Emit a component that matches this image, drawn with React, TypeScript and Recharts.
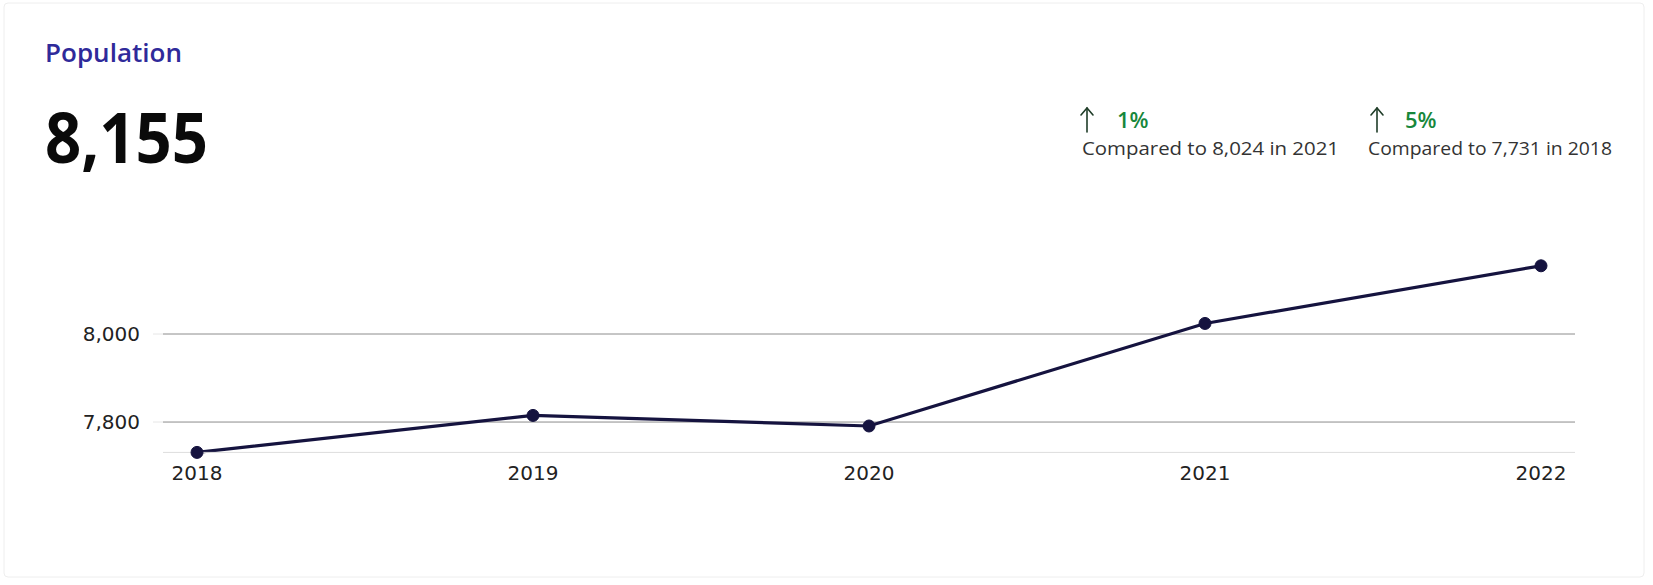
import React from 'react'
import { LineChart, Line, XAxis, YAxis, CartesianGrid } from 'recharts'

// 연도별 인구 데이터
const years = ['2018', '2019', '2020', '2021', '2022']
const population = [7731, 7815, 7791, 8024, 8155]
const yTicks = [7800, 8000]
const yDomain = [7731, 8155]

const chartData = years.map((year, i) => ({ year, population: population[i] }))

const W = 1653
const H = 585
const LINE = '#15133f'
const TICK_FONT = '"DejaVu Sans", Verdana, sans-serif'
const UI_FONT = '"Open Sans", "Noto Sans", sans-serif'

function UpArrow({ x }: { x: number }) {
  return (
    <g stroke="#1f3d28" strokeWidth={1.6} fill="none" strokeLinecap="round">
      <line x1={x} y1={132} x2={x} y2={108} />
      <polyline points={`${x - 6},${115} ${x},${108} ${x + 6},${115}`} />
    </g>
  )
}

export default function App() {
  return (
    <div style={{ position: 'absolute', left: 0, top: 0, width: W, height: H, background: '#fff' }}>
      {/* 헤더 텍스트 */}
      <svg width={W} height={H} style={{ position: 'absolute', left: 0, top: 0, pointerEvents: 'none' }}>
        <rect x={4} y={3} width={1640} height={574} rx={4} fill="none" stroke="#eeeeee" />
        <text
          x={45}
          y={62}
          fontFamily={UI_FONT}
          fontSize={25}
          fontWeight={600}
          fill="#2f2a9a"
          textLength={137}
          lengthAdjust="spacingAndGlyphs"
        >
          Population
        </text>
        <text
          x={45}
          y={163}
          fontFamily={UI_FONT}
          fontSize={70}
          fontWeight={700}
          fill="#0a0a0a"
          textLength={163}
          lengthAdjust="spacingAndGlyphs"
        >
          8,155
        </text>

        <UpArrow x={1087} />
        <text x={1117} y={128} fontFamily={UI_FONT} fontSize={22} fontWeight={600} fill="#17873b">
          1%
        </text>
        <text
          x={1082}
          y={155}
          fontFamily={UI_FONT}
          fontSize={19}
          fill="#333"
          textLength={257}
          lengthAdjust="spacingAndGlyphs"
        >
          Compared to 8,024 in 2021
        </text>

        <UpArrow x={1377} />
        <text x={1405} y={128} fontFamily={UI_FONT} fontSize={22} fontWeight={600} fill="#17873b">
          5%
        </text>
        <text
          x={1368}
          y={155}
          fontFamily={UI_FONT}
          fontSize={19}
          fill="#333"
          textLength={244}
          lengthAdjust="spacingAndGlyphs"
        >
          Compared to 7,731 in 2018
        </text>
      </svg>

      {/* 라인 차트 */}
      <div style={{ position: 'absolute', left: 0, top: 0 }}>
        <LineChart
          width={W}
          height={H}
          data={chartData}
          margin={{ top: 265.8, right: 78, bottom: 92.6, left: 83 }}
        >
          <CartesianGrid vertical={false} stroke="#8c8c8c" syncWithTicks />
          <XAxis
            dataKey="year"
            height={40}
            padding={{ left: 34, right: 34 }}
            axisLine={{ stroke: '#dddddd' }}
            tickLine={false}
            tickSize={6}
            tickMargin={7}
            tick={{ fill: '#222', fontSize: 20, fontFamily: TICK_FONT }}
          />
          <YAxis
            type="number"
            width={80}
            domain={yDomain}
            ticks={yTicks}
            axisLine={false}
            tickLine={{ stroke: '#e6e6e6' }}
            tickSize={10}
            tickMargin={13}
            tickFormatter={(v: number) => v.toLocaleString('en-US')}
            tick={{ fill: '#222', fontSize: 20, fontFamily: TICK_FONT }}
          />
          <Line
            type="linear"
            dataKey="population"
            stroke={LINE}
            strokeWidth={3.2}
            dot={{ r: 6, fill: LINE, stroke: LINE, strokeWidth: 1 }}
            isAnimationActive={false}
          />
        </LineChart>
      </div>
    </div>
  )
}
